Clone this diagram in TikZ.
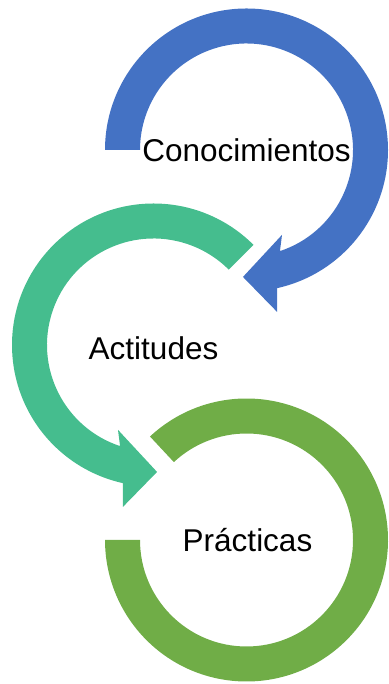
\documentclass[tikz,border=0pt]{standalone}
\usepackage{fontspec}
\setmainfont{Liberation Sans}
\definecolor{cblue}{HTML}{4472C4}
\definecolor{cteal}{HTML}{45BD8E}
\definecolor{cgreen}{HTML}{70AD47}
\begin{document}
\begin{tikzpicture}[x=1pt,y=1pt,
  lbl/.style={inner sep=0pt, font=\fontsize{31.5}{36}\selectfont, text=black}]
\useasboundingbox (0,0) rectangle (388,684);
% Conocimientos (blue)
\begin{scope}[shift={(246.5,534)}]
\fill[cblue] (180:141.5) arc[start angle=180, end angle=-77.5, radius=141.5]
  -- (-79.3:164.8) -- (-91.6:127) -- (-67.3:92) -- (-71.7:106.5)
  arc[start angle=-71.7, end angle=180, radius=106.5] -- cycle;
\node[lbl] (conoc) at (0,0) {Conocimientos};
\end{scope}
% Actitudes (teal)
\begin{scope}[shift={(153.5,339)}]
\fill[cteal] (45:141.5) arc[start angle=45, end angle=257.5, radius=141.5]
  -- (259.3:164.8) -- (271.6:127) -- (247.3:92) -- (251.7:106.5)
  arc[start angle=251.7, end angle=45, radius=106.5] -- cycle;
\node[lbl] (actit) at (0,-3) {Actitudes};
\end{scope}
% Practicas (green)
\begin{scope}[shift={(246.5,144)}]
\fill[cgreen] (133:141.5) arc[start angle=133, end angle=-180, radius=141.5]
  -- (-180:106.5) arc[start angle=-180, end angle=133, radius=106.5] -- cycle;
\node[lbl] (pract) at (1,0) {Prácticas};
\end{scope}
\end{tikzpicture}
\end{document}
